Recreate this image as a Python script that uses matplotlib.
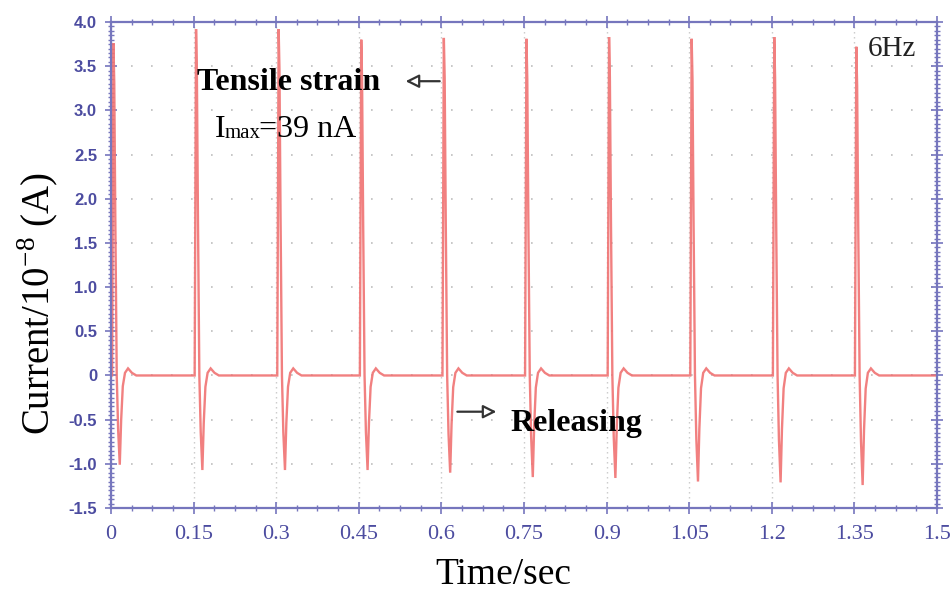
import numpy as np
import matplotlib
matplotlib.use("Agg")
import matplotlib.pyplot as plt
from matplotlib.ticker import MultipleLocator

plt.rcParams["mathtext.fontset"] = "custom"
plt.rcParams["mathtext.rm"] = "Liberation Serif"

# pulse data (one pulse every 0.15 s)
pulse_start = [0.002, 0.152, 0.302, 0.452, 0.602, 0.752, 0.902, 1.052, 1.202, 1.351]
pulse_peak = [3.76, 3.92, 3.92, 3.80, 3.82, 3.81, 3.83, 3.81, 3.83, 3.72]
pulse_dip = [-1.01, -1.07, -1.07, -1.07, -1.10, -1.15, -1.16, -1.20, -1.21, -1.24]

# shape of one pulse: time offset (s) and level, as fraction of peak (+) or dip (-)
shape_dt = [0.000, 0.0025, 0.0040, 0.0060, 0.0085, 0.0110, 0.0140, 0.0165,
            0.0195, 0.0235, 0.0290, 0.0360, 0.0440]
shape_pos = [0.0, 1.0, 0.88, 0.45, 0.0, 0.0, 0.0, 0.0, 0.0, 0.0, 0.0, 0.0, 0.0]
shape_neg = [0.0, 0.0, 0.0, 0.0, 0.0, 0.6, 1.0, 0.5, 0.12, 0.0, 0.0, 0.0, 0.0]
shape_tail = [0.0, 0.0, 0.0, 0.0, 0.0, 0.0, 0.0, 0.0, 0.0, 0.03, 0.08, 0.03, 0.0]

xticks = [0, 0.15, 0.3, 0.45, 0.6, 0.75, 0.9, 1.05, 1.2, 1.35, 1.5]
xtick_labels = ["0", "0.15", "0.3", "0.45", "0.6", "0.75", "0.9", "1.05", "1.2", "1.35", "1.5"]
yticks = [-1.5, -1.0, -0.5, 0, 0.5, 1.0, 1.5, 2.0, 2.5, 3.0, 3.5, 4.0]
ytick_labels = ["-1.5", "-1.0", "-0.5", "0", "0.5", "1.0", "1.5", "2.0", "2.5", "3.0", "3.5", "4.0"]

# build trace
t = [0.0]
i = [0.0]
for ts, p, d in zip(pulse_start, pulse_peak, pulse_dip):
    for dt, fp, fn, ft in zip(shape_dt, shape_pos, shape_neg, shape_tail):
        t.append(ts + dt)
        i.append(fp * p + fn * d + ft)
t.append(1.5)
i.append(0.0)

serif = ["Liberation Serif", "DejaVu Serif"]
narrow = ["Liberation Sans Narrow", "Liberation Sans", "DejaVu Sans"]
axis_col = "#7676bd"
tick_col = "#4c4ca0"

fig = plt.figure(figsize=(9.5, 5.93), dpi=100)
ax = fig.add_axes([0.1168, 0.1433, 0.8695, 0.8196])

ax.plot(t, i, color="#f07272", lw=1.7, alpha=0.9, solid_joinstyle="miter")

ax.set_xlim(0, 1.5)
ax.set_ylim(-1.5, 4.0)
ax.set_xticks(xticks)
ax.set_xticklabels(xtick_labels, family=serif, fontsize=16, color=tick_col)
ax.set_yticks(yticks)
ax.set_yticklabels(ytick_labels, family=narrow, fontsize=12, fontweight="bold", color=tick_col)
ax.xaxis.set_minor_locator(MultipleLocator(0.0375))
ax.yaxis.set_minor_locator(MultipleLocator(0.05))
ax.tick_params(which="both", direction="inout", top=True, right=True, color=axis_col)
ax.tick_params(which="major", length=8, width=1.2)
ax.tick_params(which="minor", length=4, width=1.0)
ax.tick_params(axis="y", which="major", pad=6)
ax.tick_params(axis="x", which="major", pad=8)
for s in ax.spines.values():
    s.set_color(axis_col)
    s.set_linewidth(1.6)

# dotted grid
ax.grid(axis="x", which="major", color="#c8c8c8", lw=1.0, ls=(0, (1, 2.6)))
ax.grid(axis="y", which="major", color="#bdbdbd", lw=1.2, ls=(0, (1, 11.0)))
ax.set_axisbelow(True)

ax.text(-0.088, 0.42, r"Current/10$^{\mathrm{-8}}$ (A)", transform=ax.transAxes, rotation=90,
        ha="center", va="center", family=serif, fontsize=28)
ax.text(0.475, -0.138, "Time/sec", transform=ax.transAxes,
        ha="center", va="center", family=serif, fontsize=27)

ax.text(0.156, 3.32, "Tensile strain", family=serif, fontsize=23, fontweight="bold",
        ha="left", va="center")
ax.annotate("", xy=(0.530, 3.33), xytext=(0.602, 3.33),
            arrowprops=dict(arrowstyle="-|>,head_length=0.8,head_width=0.4",
                            fc="white", ec="#333333", lw=1.6))
ax.text(0.189, 2.78, "I", family=serif, fontsize=23, ha="left", va="center")
ax.text(0.206, 2.74, "max", family=serif, fontsize=15, ha="left", va="center")
ax.text(0.268, 2.78, "=39 nA", family=serif, fontsize=23, ha="left", va="center")

ax.annotate("", xy=(0.705, -0.41), xytext=(0.624, -0.41),
            arrowprops=dict(arrowstyle="-|>,head_length=0.8,head_width=0.4",
                            fc="white", ec="#333333", lw=1.6))
ax.text(0.725, -0.54, "Releasing", family=serif, fontsize=23, fontweight="bold",
        ha="left", va="center")
ax.text(1.375, 3.69, "6Hz", family=serif, fontsize=21, ha="left", va="center",
        color="#222222")

fig.savefig("out.png", dpi=100)
